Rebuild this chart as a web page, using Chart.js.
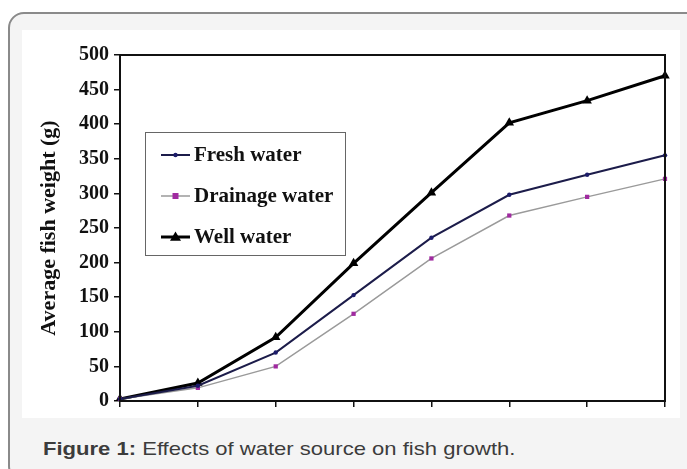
<!DOCTYPE html>
<html>
<head>
<meta charset="utf-8">
<script src="https://cdn.jsdelivr.net/npm/chart.js@4.4.1/dist/chart.umd.min.js"></script>
<style>
  html, body { margin: 0; padding: 0; background: #ffffff; }
  body { width: 687px; height: 469px; position: relative; overflow: hidden; }
  .frame {
    position: absolute; left: 8px; top: 12px; width: 700px; height: 470px;
    border: 2px solid #8a8a8a; border-radius: 16px; background: #f4f4f4;
    box-sizing: border-box;
  }
  .panel {
    position: absolute; left: 22px; top: 30px; width: 658px; height: 388px;
    background: #ffffff;
  }
  .caption {
    position: absolute; left: 43px; top: 438px;
    font-family: "Liberation Sans", Arial, sans-serif; font-size: 19px;
    color: #3c3c3c; white-space: nowrap;
    transform: scaleX(1.16); transform-origin: left center;
  }
  .caption b { font-weight: bold; }
</style>
</head>
<body>
<div class="frame"></div>
<div class="panel"><canvas id="fishChart" width="658" height="388"></canvas></div>
<div class="caption"><b>Figure 1:</b> Effects of water source on fish growth.</div>

<script>
// Sampling points along the x axis (no labels shown on the original)
const samplePoints = ["0", "1", "2", "3", "4", "5", "6", "7"];

// Average fish weight (g) for each water source
const freshWater = [3, 22, 70, 153, 236, 298, 327, 355];
const drainageWater = [3, 19, 50, 126, 206, 268, 295, 321];
const wellWater = [3, 26, 92, 199, 301, 402, 434, 470];

const yTicks = [0, 50, 100, 150, 200, 250, 300, 350, 400, 450, 500];

const serifFont = "'Liberation Serif', 'Times New Roman', serif";

/**
 * Draws the black frame around the plot area
 */
const plotFrame = {
  id: "plotFrame",
  afterDatasetsDraw(chart) {
    const { ctx, chartArea: a } = chart;
    ctx.save();
    ctx.strokeStyle = "#111";
    ctx.lineWidth = 2;
    ctx.strokeRect(a.left, a.top, a.right - a.left, a.bottom - a.top);
    ctx.restore();
  },
};

/**
 * Boxed legend drawn inside the plot, like the original
 */
const boxLegend = {
  id: "boxLegend",
  afterDraw(chart) {
    const { ctx } = chart;
    const box = { x: 123, y: 102, w: 200, h: 123 };
    ctx.save();
    ctx.fillStyle = "#fff";
    ctx.fillRect(box.x, box.y, box.w, box.h);
    ctx.strokeStyle = "#666";
    ctx.lineWidth = 1;
    ctx.strokeRect(box.x + 0.5, box.y + 0.5, box.w, box.h);

    const rows = [125, 166, 207];
    chart.data.datasets.forEach((ds, i) => {
      const y = rows[i];
      ctx.strokeStyle = ds.borderColor;
      ctx.lineWidth = ds.borderWidth;
      ctx.beginPath();
      ctx.moveTo(139, y);
      ctx.lineTo(168, y);
      ctx.stroke();

      ctx.fillStyle = ds.pointBackgroundColor;
      const r = ds.pointRadius;
      ctx.beginPath();
      if (ds.pointStyle === "triangle") {
        ctx.moveTo(153.5, y - r);
        ctx.lineTo(153.5 + r, y + r * 0.7);
        ctx.lineTo(153.5 - r, y + r * 0.7);
        ctx.closePath();
      } else if (ds.pointStyle === "rect") {
        ctx.rect(153.5 - r, y - r, r * 2, r * 2);
      } else {
        ctx.arc(153.5, y, r, 0, Math.PI * 2);
      }
      ctx.fill();

      ctx.fillStyle = "#111";
      ctx.font = "bold 21px " + serifFont;
      ctx.textBaseline = "middle";
      ctx.fillText(ds.label, 172, y + 1);
    });
    ctx.restore();
  },
};

const ctx = document.getElementById("fishChart");

new Chart(ctx, {
  type: "line",
  data: {
    labels: samplePoints,
    datasets: [
      {
        label: "Fresh water",
        data: freshWater,
        borderColor: "#1c1c4a",
        borderWidth: 2,
        pointStyle: "circle",
        pointRadius: 2.2,
        pointBackgroundColor: "#1c1c6a",
        pointBorderWidth: 0,
        tension: 0,
      },
      {
        label: "Drainage water",
        data: drainageWater,
        borderColor: "#9a9a9a",
        borderWidth: 1.5,
        pointStyle: "rect",
        pointRadius: 3,
        pointBackgroundColor: "#a02aa0",
        pointBorderWidth: 0,
        tension: 0,
      },
      {
        label: "Well water",
        data: wellWater,
        borderColor: "#000000",
        borderWidth: 3,
        pointStyle: "triangle",
        pointRadius: 5.5,
        pointBackgroundColor: "#000000",
        pointBorderColor: "#000000",
        pointBorderWidth: 0,
        tension: 0,
      },
    ],
  },
  options: {
    responsive: false,
    animation: false,
    layout: { padding: { left: 0, top: 25, right: 15, bottom: 14 } },
    plugins: {
      legend: { display: false },
      tooltip: { enabled: false },
    },
    scales: {
      x: {
        offset: false,
        grid: {
          drawOnChartArea: false,
          drawTicks: true,
          tickLength: 6,
          color: "#111",
          lineWidth: 1.5,
        },
        border: { display: false },
        ticks: { display: false },
        afterFit(scale) {
          scale.height = 0;
        },
      },
      y: {
        min: 0,
        max: 500,
        afterBuildTicks(scale) {
          scale.ticks = yTicks.map((v) => ({ value: v }));
        },
        grid: {
          drawOnChartArea: false,
          drawTicks: true,
          tickLength: 6,
          color: "#111",
          lineWidth: 1.5,
        },
        border: { display: false },
        ticks: {
          color: "#111",
          padding: 5,
          font: { family: serifFont, size: 20, weight: "bold" },
        },
        title: {
          display: true,
          text: "Average fish weight (g)",
          color: "#111",
          padding: { top: 14, bottom: 0 },
          font: { family: serifFont, size: 22, weight: "bold" },
        },
        afterFit(scale) {
          scale.width = 98;
        },
      },
    },
  },
  plugins: [plotFrame, boxLegend],
});
</script>
</body>
</html>
